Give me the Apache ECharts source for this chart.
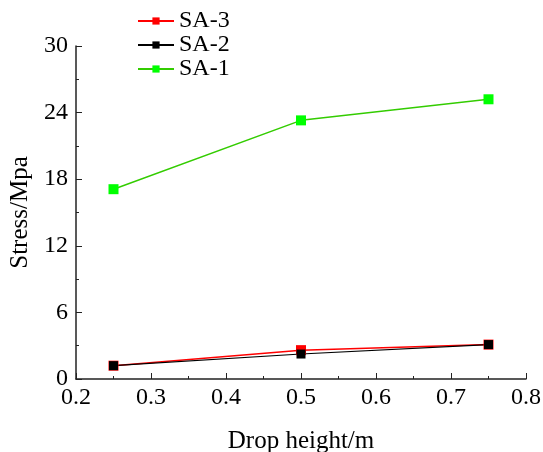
<!DOCTYPE html>
<html>
<head>
<meta charset="utf-8">
<script src="https://cdn.jsdelivr.net/npm/echarts@6/dist/echarts.min.js"></script>
<style>
  html, body { margin: 0; padding: 0; background: #fff; }
  #main { width: 543px; height: 452px; }
</style>
</head>
<body>
<div id="main"></div>
<script>
// drop height (m) vs stress (MPa)
const heights = [0.25, 0.5, 0.75];
const sa3 = [1.2, 2.6, 3.1];
const sa2 = [1.2, 2.25, 3.1];
const sa1 = [17.1, 23.3, 25.2];
const xTicks = [0.2, 0.3, 0.4, 0.5, 0.6, 0.7, 0.8];
const yTicks = [0, 6, 12, 18, 24, 30];

const font = 'Liberation Serif';
const chart = echarts.init(document.getElementById('main'));

function pts(ys) {
  return heights.map((x, i) => [x, ys[i]]);
}

const option = {
  backgroundColor: '#fff',
  animation: false,
  grid: { left: 76, right: 17, top: 46, bottom: 73, outerBoundsMode: 'none', containLabel: false },
  legend: {
    orient: 'vertical',
    left: 132,
    top: 4,
    itemWidth: 36,
    itemHeight: 9,
    itemGap: 0,
    textStyle: { fontFamily: font, fontSize: 24, color: '#000' },
    data: ['SA-3', 'SA-2', 'SA-1']
  },
  xAxis: {
    type: 'value',
    min: 0.2,
    max: 0.8,
    interval: 0.1,
    name: 'Drop height/m',
    nameLocation: 'middle',
    nameGap: 50,
    nameTextStyle: { fontFamily: font, fontSize: 25, color: '#000' },
    axisLine: { lineStyle: { color: '#222', width: 1.5 } },
    axisTick: { inside: true, length: 6, lineStyle: { color: '#222' } },
    minorTick: { show: true, splitNumber: 2, length: 3, lineStyle: { color: '#222' } },
    splitLine: { show: false },
    axisLabel: {
      fontFamily: font, fontSize: 24, color: '#000', margin: 7,
      formatter: v => {
        const t = xTicks.find(k => Math.abs(k - v) < 1e-6);
        return t === undefined ? '' : t.toFixed(1);
      }
    }
  },
  yAxis: {
    type: 'value',
    min: 0,
    max: 30,
    interval: 6,
    name: 'Stress/Mpa',
    nameLocation: 'middle',
    nameGap: 41,
    nameTextStyle: { fontFamily: font, fontSize: 25, color: '#000' },
    axisLine: { show: true, lineStyle: { color: '#222', width: 1.5 } },
    axisTick: { show: true, inside: true, length: 6, lineStyle: { color: '#222' } },
    minorTick: { show: true, splitNumber: 2, length: 3, lineStyle: { color: '#222' } },
    splitLine: { show: false },
    axisLabel: {
      fontFamily: font, fontSize: 24, color: '#000', margin: 8,
      formatter: v => (yTicks.indexOf(v) >= 0 ? String(v) : '')
    }
  },
  series: [
    {
      name: 'SA-3', type: 'line', data: pts(sa3),
      symbol: 'rect', symbolSize: 10,
      lineStyle: { color: '#ff0000', width: 1.5 },
      itemStyle: { color: '#ff0000' }
    },
    {
      name: 'SA-2', type: 'line', data: pts(sa2),
      symbol: 'rect', symbolSize: 9,
      lineStyle: { color: '#000', width: 1.2 },
      itemStyle: { color: '#000' }
    },
    {
      name: 'SA-1', type: 'line', data: pts(sa1),
      symbol: 'rect', symbolSize: 10,
      lineStyle: { color: '#33cc00', width: 1.5 },
      itemStyle: { color: '#00ff00' }
    }
  ]
};

chart.setOption(option);
</script>
</body>
</html>
